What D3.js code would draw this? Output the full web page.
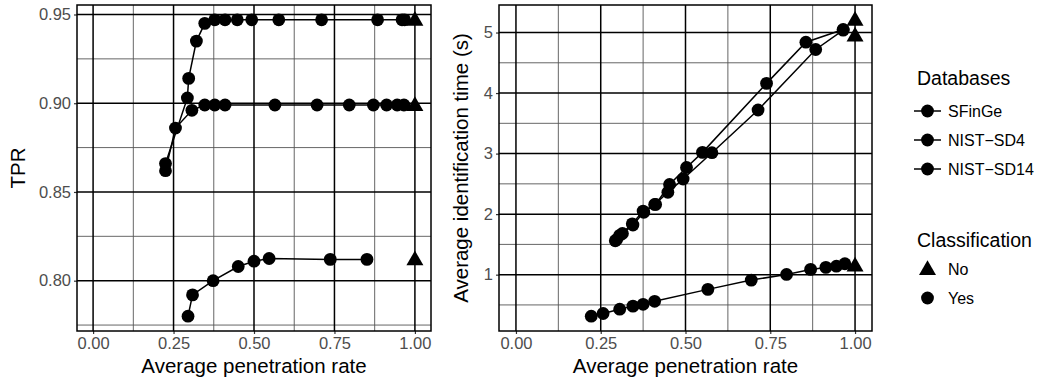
<!DOCTYPE html>
<html>
<head>
<meta charset="utf-8">
<script src="https://cdn.jsdelivr.net/npm/d3@7"></script>
<style>
  body { margin: 0; background: #fff; }
  svg { display: block; font-family: "Liberation Sans", Arial, sans-serif; }
</style>
</head>
<body>
<svg id="chart" width="1041" height="386"></svg>
<script>
// series data (x = average penetration rate)
const databases = ["SFinGe", "NIST\u2212SD4", "NIST\u2212SD14"];
const classes = ["No", "Yes"];

// TPR panel
const tprSFinGeX = [0.225, 0.293, 0.297, 0.321, 0.347, 0.378, 0.410, 0.448, 0.493, 0.577, 0.710, 0.884, 0.960, 0.968];
const tprSFinGeY = [0.866, 0.903, 0.914, 0.935, 0.945, 0.947, 0.947, 0.947, 0.947, 0.947, 0.947, 0.947, 0.947, 0.947];
const tprSD4X = [0.295, 0.309, 0.373, 0.451, 0.500, 0.547, 0.737, 0.851];
const tprSD4Y = [0.780, 0.792, 0.800, 0.808, 0.811, 0.8125, 0.812, 0.812];
const tprSD14X = [0.225, 0.256, 0.307, 0.347, 0.378, 0.410, 0.565, 0.696, 0.796, 0.871, 0.912, 0.945, 0.966];
const tprSD14Y = [0.862, 0.886, 0.896, 0.899, 0.899, 0.899, 0.899, 0.899, 0.899, 0.899, 0.899, 0.899, 0.899];
const tprNoY = [0.947, 0.812, 0.899]; // no classification, x = 1

// identification time panel
const timeSFinGeX = [0.297, 0.314, 0.345, 0.377, 0.409, 0.448, 0.493, 0.578, 0.714, 0.884, 0.965];
const timeSFinGeY = [1.58, 1.68, 1.82, 2.03, 2.16, 2.36, 2.58, 3.015, 3.72, 4.72, 5.04];
const timeSD4X = [0.293, 0.306, 0.343, 0.375, 0.412, 0.453, 0.503, 0.550, 0.739, 0.855, 0.965];
const timeSD4Y = [1.56, 1.65, 1.84, 2.05, 2.16, 2.49, 2.77, 3.02, 4.16, 4.84, 5.05];
const timeSD14X = [0.222, 0.257, 0.306, 0.345, 0.375, 0.409, 0.566, 0.694, 0.798, 0.869, 0.914, 0.945, 0.970];
const timeSD14Y = [0.314, 0.358, 0.43, 0.48, 0.51, 0.56, 0.757, 0.91, 1.004, 1.087, 1.12, 1.14, 1.18];
const timeNoY = [4.95, 5.21, 1.15];

const xTicks = [0, 0.25, 0.5, 0.75, 1];
const xMinor = [0.125, 0.375, 0.625, 0.875];
const tprTicks = [0.80, 0.85, 0.90, 0.95];
const tprMinor = [0.775, 0.825, 0.875, 0.925];
const timeTicks = [1, 2, 3, 4, 5];
const timeMinor = [0.5, 1.5, 2.5, 3.5, 4.5];

const svg = d3.select("#chart");
const POINT_R = 6.4;
const TICK_FONT = "16.5px";
const TITLE_FONT = "20.5px";
const triangle = d3.symbol().type(d3.symbolTriangle).size(125);

function zip(xs, ys) {
  return xs.map((x, i) => ({ x, y: ys[i] }));
}

// ggplot-like 5% expansion
function expand(lo, hi) {
  const pad = (hi - lo) * 0.05;
  return [lo - pad, hi + pad];
}

function drawPanel(opts) {
  const { left, right, top, bottom, series, noY, yTicks, yMinor, yFmt, yTitle, yTitleX } = opts;

  const allY = series.flatMap((s) => s.y).concat(noY);
  const x = d3.scaleLinear().domain(expand(0, 1)).range([left, right]);
  const y = d3.scaleLinear().domain(expand(d3.min(allY), d3.max(allY))).range([bottom, top]);

  const g = svg.append("g");

  // grid: minor first, then major
  g.append("g").selectAll("line").data(xMinor).join("line")
    .attr("x1", (d) => x(d)).attr("x2", (d) => x(d))
    .attr("y1", top).attr("y2", bottom)
    .attr("stroke", "#555").attr("stroke-width", 0.9);
  g.append("g").selectAll("line").data(yMinor).join("line")
    .attr("x1", left).attr("x2", right)
    .attr("y1", (d) => y(d)).attr("y2", (d) => y(d))
    .attr("stroke", "#555").attr("stroke-width", 0.9);
  g.append("g").selectAll("line").data(xTicks).join("line")
    .attr("x1", (d) => x(d)).attr("x2", (d) => x(d))
    .attr("y1", top).attr("y2", bottom)
    .attr("stroke", "#000").attr("stroke-width", 1.5);
  g.append("g").selectAll("line").data(yTicks).join("line")
    .attr("x1", left).attr("x2", right)
    .attr("y1", (d) => y(d)).attr("y2", (d) => y(d))
    .attr("stroke", "#000").attr("stroke-width", 1.5);

  // axes
  const xAxis = g.append("g")
    .attr("transform", `translate(0,${bottom})`)
    .call(d3.axisBottom(x).tickValues(xTicks).tickFormat(d3.format(".2f")).tickSize(3).tickPadding(3));
  const yAxis = g.append("g")
    .attr("transform", `translate(${left},0)`)
    .call(d3.axisLeft(y).tickValues(yTicks).tickFormat(yFmt).tickSize(3).tickPadding(3));
  [xAxis, yAxis].forEach((a) => {
    a.select(".domain").remove();
    a.selectAll(".tick line").attr("stroke", "#333").attr("stroke-width", 1.2);
    a.selectAll(".tick text")
      .attr("fill", "#4d4d4d")
      .style("font-size", TICK_FONT)
      .style("font-family", "'Liberation Sans', Arial, sans-serif");
  });

  // panel border
  g.append("rect")
    .attr("x", left).attr("y", top)
    .attr("width", right - left).attr("height", bottom - top)
    .attr("fill", "none").attr("stroke", "#000").attr("stroke-width", 1.5);

  // lines and points
  const line = d3.line().x((d) => x(d.x)).y((d) => y(d.y));
  series.forEach((s) => {
    const pts = zip(s.x, s.y);
    g.append("path")
      .datum(pts)
      .attr("d", line)
      .attr("fill", "none")
      .attr("stroke", "#000")
      .attr("stroke-width", 1.5);
    g.append("g").selectAll("circle").data(pts).join("circle")
      .attr("cx", (d) => x(d.x)).attr("cy", (d) => y(d.y))
      .attr("r", POINT_R).attr("fill", "#000");
  });
  g.append("g").selectAll("path").data(noY).join("path")
    .attr("d", triangle)
    .attr("transform", (d) => `translate(${x(1)},${y(d) + 1})`)
    .attr("fill", "#000");

  // titles
  g.append("text")
    .attr("x", (left + right) / 2).attr("y", 373)
    .attr("text-anchor", "middle")
    .style("font-size", TITLE_FONT)
    .text("Average penetration rate");
  g.append("text")
    .attr("transform", `translate(${yTitleX},${(top + bottom) / 2}) rotate(-90)`)
    .attr("text-anchor", "middle")
    .style("font-size", TITLE_FONT)
    .text(yTitle);
}

drawPanel({
  left: 77, right: 431, top: 5, bottom: 331,
  series: [
    { x: tprSFinGeX, y: tprSFinGeY },
    { x: tprSD4X, y: tprSD4Y },
    { x: tprSD14X, y: tprSD14Y },
  ],
  noY: tprNoY,
  yTicks: tprTicks, yMinor: tprMinor, yFmt: d3.format(".2f"),
  yTitle: "TPR", yTitleX: 25,
});

drawPanel({
  left: 499, right: 872, top: 5, bottom: 331,
  series: [
    { x: timeSFinGeX, y: timeSFinGeY },
    { x: timeSD4X, y: timeSD4Y },
    { x: timeSD14X, y: timeSD14Y },
  ],
  noY: timeNoY,
  yTicks: timeTicks, yMinor: timeMinor, yFmt: d3.format("d"),
  yTitle: "Average identification time (s)", yTitleX: 468,
});

// legend
const lg = svg.append("g").attr("transform", "translate(913,0)");
lg.append("text").attr("x", 4).attr("y", 85).style("font-size", "19.5px").text("Databases");
const dbItem = lg.selectAll("g.db").data(databases).join("g")
  .attr("class", "db")
  .attr("transform", (d, i) => `translate(0,${111 + i * 29})`);
dbItem.append("line")
  .attr("x1", 1).attr("x2", 28).attr("y1", 0).attr("y2", 0)
  .attr("stroke", "#000").attr("stroke-width", 1.5);
dbItem.append("circle").attr("cx", 14.5).attr("cy", 0).attr("r", POINT_R).attr("fill", "#000");
dbItem.append("text").attr("x", 35).attr("y", 5.5).style("font-size", "16px").text((d) => d);

lg.append("text").attr("x", 4).attr("y", 247).style("font-size", "19.5px").text("Classification");
const clItem = lg.selectAll("g.cl").data(classes).join("g")
  .attr("class", "cl")
  .attr("transform", (d, i) => `translate(0,${269 + i * 29})`);
clItem.append("path")
  .attr("d", (d) => (d === "No" ? triangle() : d3.symbol().type(d3.symbolCircle).size(Math.PI * POINT_R * POINT_R)()))
  .attr("transform", (d) => `translate(14.5,${d === "No" ? 1 : 0})`)
  .attr("fill", "#000");
clItem.append("text").attr("x", 35).attr("y", 5.5).style("font-size", "16px").text((d) => d);
</script>
</body>
</html>
